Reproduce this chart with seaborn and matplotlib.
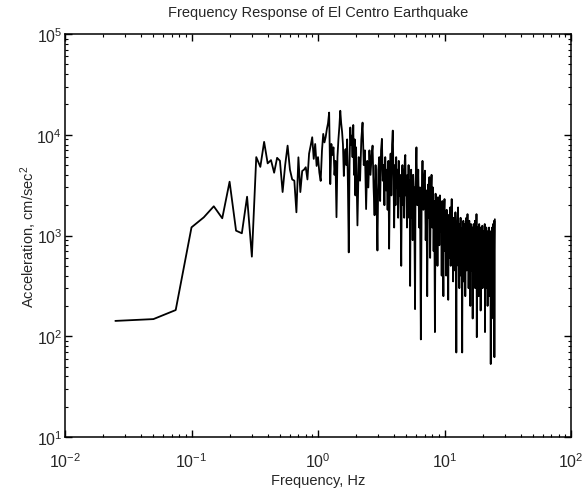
import numpy as np
import pandas as pd
import matplotlib
matplotlib.use("Agg")
import matplotlib.pyplot as plt
import seaborn as sns
from matplotlib.ticker import LogLocator, NullFormatter

# ---- data ----
# frequency grid segments (Hz)
freq_a = np.round(np.arange(1, 81) * 0.025, 3)          # 0.025 .. 2.0
freq_b = np.round(2.0 + np.arange(1, 81) * 0.05, 3)     # 2.05 .. 6.0
freq_c = np.round(6.0 + np.arange(1, 191) * 0.1, 3)     # 6.1 .. 25.0

acc_a = [142, 148, 182, 1205, 1514, 1950, 1483, 3420, 1117, 1052,
         2427, 617, 6000, 4800, 8500, 5200, 5600, 4200, 5900, 5520,
         2700, 5000, 7800, 4500, 3600, 3500, 1700, 5970, 2700, 4370,
         4500, 4760, 3600, 6500, 7800, 9450, 5760, 8100, 4900, 6000,
         4200, 3480, 7000, 10200, 8400, 9500, 11400, 13000, 16600, 3240,
         8100, 6300, 7500, 4000, 5500, 1520, 6000, 9000, 12000, 17300,
         13000, 10700, 8000, 3900, 6000, 7200, 5000, 9000, 3000, 680,
         5000, 11800, 8000, 9800, 6000, 12500, 4000, 9000, 2500, 7500]

acc_b = [1260, 6000, 3500, 9000, 13200, 5000, 7000, 1830, 5500, 3000,
         7000, 4000, 6000, 7800, 3000, 1590, 5000, 2500, 710, 4500,
         6000, 2200, 7000, 9100, 3500, 5000, 2000, 6000, 2800, 4500,
         1800, 5500, 740, 4000, 6500, 2500, 8000, 11000, 4000, 1200,
         5000, 2000, 6000, 3000, 4500, 1500, 5500, 2500, 4000, 1800,
         500, 3500, 5000, 2000, 4500, 1500, 5500, 6300, 2500, 3500,
         1200, 4000, 2000, 5000, 1500, 3500, 316, 3000, 4500, 1500,
         3500, 900, 4000, 2500, 3000, 800, 186, 3000, 5000, 7500]

acc_c = [2000, 4500, 1200, 3000, 93, 2500, 5500, 1800, 3500, 4400,
         900, 2800, 250, 3200, 1500, 3800, 600, 2500, 4000, 1200,
         3000, 700, 2200, 110, 2600, 1400, 2000, 500, 2400, 1800,
         800, 2500, 1100, 1900, 400, 2200, 900, 250, 1600, 2300,
         700, 1500, 400, 1800, 900, 1300, 230, 1600, 600, 1200,
         1900, 500, 1400, 2300, 800, 1100, 350, 1500, 700, 1300,
         450, 1700, 900, 69, 1200, 600, 1400, 1900, 500, 1000,
         300, 1300, 800, 1500, 400, 1100, 650, 69, 1200, 900,
         1400, 350, 1000, 600, 1300, 250, 1100, 700, 1500, 450,
         1000, 1630, 500, 1200, 300, 900, 1400, 600, 1100, 200,
         800, 1300, 450, 1000, 700, 1200, 150, 900, 550, 1300,
         400, 1000, 650, 1400, 300, 800, 1100, 500, 1630, 98,
         900, 400, 1200, 700, 1000, 250, 850, 1300, 450, 1000,
         600, 1200, 180, 800, 1100, 400, 900, 650, 1250, 300,
         800, 1100, 500, 900, 350, 1000, 600, 1300, 110, 800,
         450, 1000, 700, 1200, 300, 850, 550, 1100, 200, 750,
         1000, 400, 900, 600, 1200, 250, 800, 1000, 450, 700,
         1100, 53, 900, 500, 1000, 350, 800, 1200, 400, 900,
         600, 1300, 150, 800, 1000, 450, 1400, 62, 700, 1450]

title = "Frequency Response of El Centro Earthquake"
xlabel = "Frequency, Hz"
ylabel = "Acceleration, cm/sec$^2$"

df = pd.DataFrame({
    "freq": np.concatenate([freq_a, freq_b, freq_c]),
    "acc": np.concatenate([acc_a, acc_b, acc_c]).astype(float),
})

# ---- style ----
sns.set_style("ticks")
plt.rcParams["font.family"] = ["Liberation Sans", "DejaVu Sans"]
plt.rcParams["mathtext.fontset"] = "custom"
plt.rcParams["mathtext.rm"] = "Liberation Sans"
plt.rcParams["mathtext.it"] = "Liberation Sans:italic"

fig = plt.figure(figsize=(5.82, 4.89), dpi=100)
ax = fig.add_axes([0.1117, 0.1043, 0.8694, 0.8241])

sns.lineplot(data=df, x="freq", y="acc", ax=ax, color="black",
             linewidth=1.3, sort=False, estimator=None)

ax.set_xscale("log")
ax.set_yscale("log")
ax.set_xlim(1e-2, 1e2)
ax.set_ylim(1e1, 1e5)

ax.xaxis.set_major_locator(LogLocator(base=10, numticks=10))
ax.yaxis.set_major_locator(LogLocator(base=10, numticks=10))
ax.xaxis.set_minor_locator(LogLocator(base=10, subs=np.arange(2, 10), numticks=50))
ax.yaxis.set_minor_locator(LogLocator(base=10, subs=np.arange(2, 10), numticks=50))
ax.xaxis.set_minor_formatter(NullFormatter())
ax.yaxis.set_minor_formatter(NullFormatter())

ax.tick_params(which="both", direction="in", top=True, right=True,
               color="black", labelsize=11.5)
ax.tick_params(which="major", length=5, width=1)
ax.tick_params(which="minor", length=2.5, width=0.8)
ax.tick_params(axis="x", which="major", pad=10)
ax.tick_params(axis="y", which="major", pad=2)
for s in ax.spines.values():
    s.set_linewidth(1.1)
    s.set_color("black")

ax.set_title(title, fontsize=10.5, pad=13)
ax.set_xlabel(xlabel, fontsize=10.5)
ax.set_ylabel(ylabel, fontsize=10.5)
ax.yaxis.set_label_coords(-0.052, 0.5)
ax.xaxis.set_label_coords(0.5, -0.09)

fig.savefig("out.png", dpi=100, facecolor="white")
